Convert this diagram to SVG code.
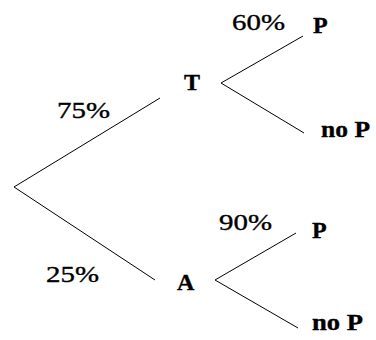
<svg xmlns="http://www.w3.org/2000/svg" width="376" height="340" viewBox="0 0 376 340">
<rect width="376" height="340" fill="#fff"/>
<g id="connectors" stroke="#000" stroke-width="1">
<line x1="14" y1="187" x2="160" y2="98"/>
<line x1="14" y1="187" x2="155" y2="280"/>
<line x1="221" y1="83" x2="303" y2="36"/>
<line x1="221" y1="83" x2="304" y2="133"/>
<line x1="215" y1="280" x2="296" y2="233"/>
<line x1="215" y1="280" x2="298" y2="328"/>
</g>
<g font-family="Liberation Serif, Times New Roman, serif" font-size="23" fill="#000" stroke="#000" stroke-width="0.35">
<g id="label-75"><text x="57" y="118" textLength="53" lengthAdjust="spacingAndGlyphs">75%</text></g>
<g id="label-25"><text x="46" y="282" textLength="53" lengthAdjust="spacingAndGlyphs">25%</text></g>
<g id="label-60"><text x="232" y="30" textLength="53" lengthAdjust="spacingAndGlyphs">60%</text></g>
<g id="label-90"><text x="219" y="230" textLength="53" lengthAdjust="spacingAndGlyphs">90%</text></g>
<g id="node-T"><text font-weight="bold" x="184" y="90" font-size="24">T</text></g>
<g id="node-A"><text font-weight="bold" x="177" y="290" font-size="24">A</text></g>
<g id="node-TP"><text font-weight="bold" x="313" y="33" font-size="24">P</text></g>
<g id="node-TnoP"><text font-weight="bold" x="321" y="137" font-size="24" textLength="49" lengthAdjust="spacingAndGlyphs">no P</text></g>
<g id="node-AP"><text font-weight="bold" x="312" y="238" font-size="24">P</text></g>
<g id="node-AnoP"><text font-weight="bold" x="312" y="330" font-size="24" textLength="51" lengthAdjust="spacingAndGlyphs">no P</text></g>
</g>
</svg>
